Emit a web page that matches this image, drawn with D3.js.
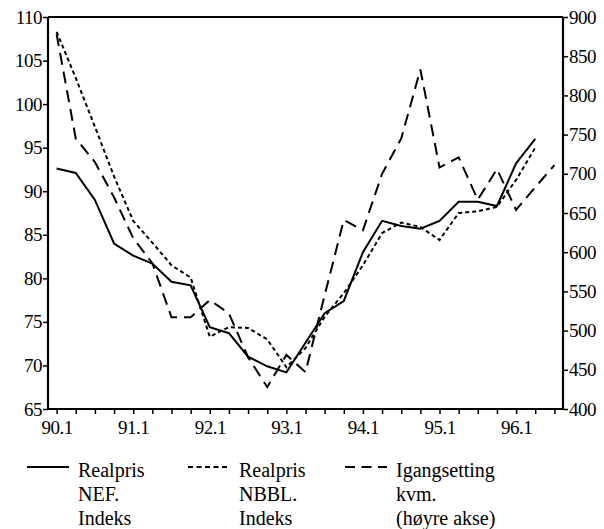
<!DOCTYPE html>
<html><head><meta charset="utf-8">
<script src="https://cdn.jsdelivr.net/npm/d3@7"></script>
<style>
body{margin:0;background:#fff;}
svg{display:block;}
svg text{font-family:"Liberation Serif","Tinos","Times New Roman",Times,"DejaVu Serif","Noto Serif",serif !important;}
</style></head>
<body>
<svg id="c" width="604" height="529"></svg>
<script>
const quarters = ["90.1","90.2","90.3","90.4","91.1","91.2","91.3","91.4","92.1","92.2","92.3","92.4",
  "93.1","93.2","93.3","93.4","94.1","94.2","94.3","94.4","95.1","95.2","95.3","95.4","96.1","96.2","96.3"];
const leftTicks = [65,70,75,80,85,90,95,100,105,110];
const rightTicks = [400,450,500,550,600,650,700,750,800,850,900];
const realprisNEF = [92.6,92.1,89.0,84.0,82.6,81.7,79.6,79.2,74.4,73.7,71.0,69.9,69.2,72.6,76.0,77.4,83.0,86.6,86.0,85.7,86.6,88.8,88.8,88.3,93.2,96.0,null];
const realprisNBBL = [108.3,103.0,97.4,91.7,86.6,84.1,81.5,80.1,73.3,74.4,74.3,73.0,69.8,72.0,75.6,78.3,81.5,85.2,86.4,85.9,84.4,87.5,87.7,88.2,91.3,95.0,null];
const igangsetting = [878,745,715,670,618,586,517,517,539,522,466,428,469,447,545,641,628,700,745,833,708,721,667,706,654,683,711];
const legendItems = [
  {lines:["Realpris","NEF.","Indeks"], dash:null},
  {lines:["Realpris","NBBL.","Indeks"], dash:"5,3.5"},
  {lines:["Igangsetting","kvm.","(høyre akse)"], dash:"10,6.5"}
];

const svg = d3.select("#c");
const L = 48, R = 563, T = 17, B = 409;
const x = d3.scalePoint().domain(quarters).range([L, R]).padding(0.45);
const yL = d3.scaleLinear().domain([65,110]).range([B, T]);
const yR = d3.scaleLinear().domain([400,900]).range([B, T]);

svg.append("line").attr("x1",L).attr("x2",R).attr("y1",T).attr("y2",T).attr("stroke","#000").attr("stroke-width",2.2);

const fs = "19px";
const ax = svg.append("g").attr("transform",`translate(${L},0)`)
  .call(d3.axisLeft(yL).tickValues(leftTicks).tickSize(5).tickPadding(1));
const ar = svg.append("g").attr("transform",`translate(${R},0)`)
  .call(d3.axisRight(yR).tickValues(rightTicks).tickSize(5).tickPadding(1));
const ab = svg.append("g").attr("transform",`translate(0,${B})`)
  .call(d3.axisBottom(x).tickSize(5).tickPadding(7).tickFormat(d => d.endsWith(".1") ? d : ""));
[ax,ar,ab].forEach(g=>{
  g.attr("font-family",null);
  g.select(".domain").attr("stroke","#000").attr("stroke-width",2.2);
  g.selectAll(".tick line").attr("stroke","#000").attr("stroke-width",1.5);
  g.selectAll("text").attr("font-size",fs).attr("fill","#000").style("letter-spacing","-0.5px");
});
ax.select(".domain").attr("d",`M0,${B}V${T}`);
ar.select(".domain").attr("d",`M0,${B}V${T}`);
ab.select(".domain").attr("d",`M${L},0H${R}`);

const lineL = d3.line().defined(d=>d!=null).x((d,i)=>x(quarters[i])).y(d=>yL(d));
const lineR = d3.line().defined(d=>d!=null).x((d,i)=>x(quarters[i])).y(d=>yR(d));

svg.append("path").datum(realprisNBBL).attr("d",lineL).attr("fill","none").attr("stroke","#000").attr("stroke-width",2).attr("stroke-dasharray","4,3");
svg.append("path").datum(igangsetting).attr("d",lineR).attr("fill","none").attr("stroke","#000").attr("stroke-width",2).attr("stroke-dasharray","12,7");
svg.append("path").datum(realprisNEF).attr("d",lineL).attr("fill","none").attr("stroke","#000").attr("stroke-width",2);

const lx = [27,188,345];
const lg = svg.append("g");
legendItems.forEach((it,k)=>{
  const g = lg.append("g").attr("transform",`translate(${lx[k]},0)`);
  g.append("line").attr("x1",0).attr("x2",42).attr("y1",467).attr("y2",467)
    .attr("stroke","#000").attr("stroke-width",2).attr("stroke-dasharray",it.dash);
  it.lines.forEach((t,j)=>{
    g.append("text").attr("x",51).attr("y",477+j*24).attr("font-size","20px").attr("fill","#000").text(t);
  });
});
</script>
</body></html>
